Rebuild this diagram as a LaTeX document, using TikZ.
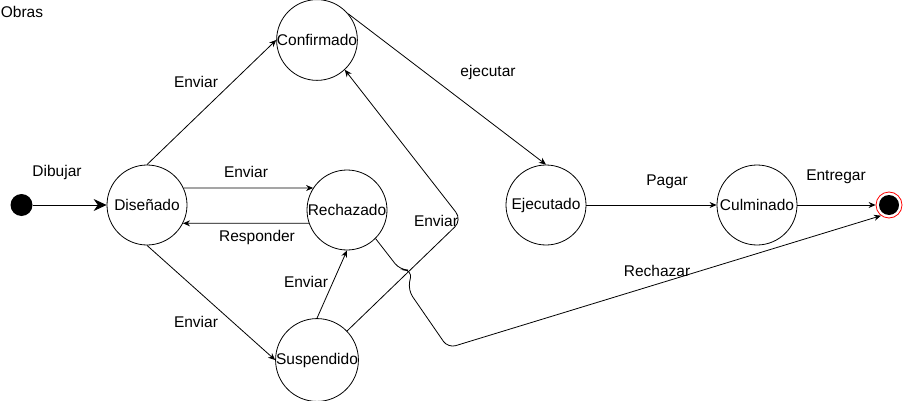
\documentclass[tikz,border=0pt]{standalone}
\usepackage{fontspec}
\setmainfont{Liberation Sans}
\usetikzlibrary{calc}
\usetikzlibrary{arrows.meta}

\begin{document}
\begin{tikzpicture}[x=1pt, y=-1pt,
    estado/.style={draw, circle, minimum size=80pt, inner sep=0pt, line width=0.8pt},
    flecha/.style={line width=0.8pt, -{Stealth[length=7pt, width=6pt]}},
    grande/.style={line width=0.8pt, -{Stealth[length=13pt, width=12pt]}},
    texto/.style={font=\fontsize{15.5}{18}\selectfont}]
    
    \useasboundingbox (0, 0) rectangle (907, 401);
    \node [texto] (obras) at (22, 12) {Obras};
    \node [circle, fill=black, minimum size=22pt, inner sep=0pt] (inicio) at (21.5, 205) {};
    \node [estado, texto] (disenado) at (147, 205) {Diseñado};
    \node [estado, texto] (confirmado) at (317, 40) {Confirmado};
    \node [estado, texto] (rechazado) at (347, 210) {Rechazado};
    \node [estado, texto] (suspendido) at (317, 360) {Suspendido};
    \node [estado, texto] (ejecutado) at (546, 205) {Ejecutado};
    \node [estado, texto] (culminado) at (757, 205) {Culminado};
    \node [circle, draw=red, fill=white, minimum size=26pt, inner sep=0pt, line width=0.8pt] (fin) at (889, 205) {};
    \fill[black] (fin.center) circle (10pt);
    \coordinate (Q1) at (462, 220);
    \coordinate (R1) at (400, 270);
    \coordinate (R2) at (412, 270);
    \coordinate (R3) at (408, 290);
    \coordinate (R4) at (448, 348);
    \draw [grande] (inicio) -- (disenado);
    \draw [flecha] (disenado.north) -- (confirmado.west);
    \draw [flecha] (disenado.25) -- (rechazado.147);
    \draw [flecha] (rechazado.199) -- (disenado.333);
    \draw [flecha] (disenado.south) -- (suspendido.west);
    \draw [flecha] (suspendido.north) -- (rechazado.south);
    \draw [flecha, rounded corners=10pt] (suspendido.44) -- (Q1) -- (confirmado.313);
    \draw [flecha] (confirmado.40) -- (ejecutado.north);
    \draw [flecha] (ejecutado) -- (culminado);
    \draw [flecha] (culminado) -- (fin);
    \draw [flecha, rounded corners=8pt] (rechazado.315) -- (R1) -- (R2) -- (R3) -- (R4) -- (fin.233);
    \node [texto] (lDibujar) at (57, 172) {Dibujar};
    \node [texto] (lEnviarConf) at (196, 82) {Enviar};
    \node [texto] (lEnviarRech) at (246, 172) {Enviar};
    \node [texto] (lResponder) at (257, 237) {Responder};
    \node [texto] (lEnviarSusp) at (196, 322) {Enviar};
    \node [texto] (lEnviarSR) at (306, 282) {Enviar};
    \node [texto] (lEnviarSC) at (436, 221) {Enviar};
    \node [texto] (lEjecutar) at (488, 72) {ejecutar};
    \node [texto] (lPagar) at (667, 182) {Pagar};
    \node [texto] (lEntregar) at (836, 177) {Entregar};
    \node [texto] (lRechazar) at (657, 271) {Rechazar};
  \end{tikzpicture}
\end{document}
